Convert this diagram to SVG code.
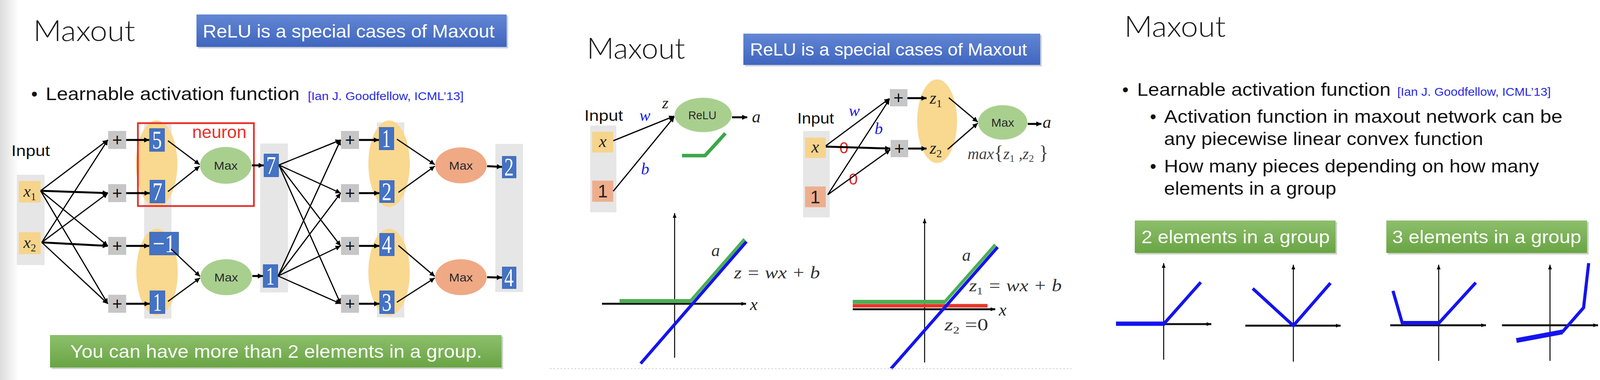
<svg xmlns="http://www.w3.org/2000/svg" width="4108" height="972" viewBox="0 0 4108 972">
<defs>
<style>
text{font-family:"Liberation Sans",Arial,sans-serif}
.ttl{font-family:"Lato","Liberation Sans",sans-serif;font-weight:300;font-size:74px;fill:#1a1a1a}
.body{font-size:46px;fill:#111}
.cite{font-size:30px;fill:#2a2ae6}
.ban{font-size:46px;fill:#fff}
.m{font-family:"Liberation Serif","Times New Roman",serif;font-style:italic}
.sub{font-style:normal}
.col{fill:#e6e6e6}
.plus{fill:#c6c6c6}
.pt{font-size:44px;fill:#111;text-anchor:middle}
.bb{fill:#4472c4;stroke:#3a62b0;stroke-width:1.5}
.num{font-family:"Liberation Serif","Times New Roman",serif;fill:#fff;font-size:66px;text-anchor:middle}
.yel{fill:#f9d890}
.yb{fill:#f6d48b}
.ob{fill:#eeae8d}
.gm{fill:#a9cf8f}
.om{fill:#efa985}
.mx{font-size:30px;fill:#2a2a2a;text-anchor:middle}
.ln{stroke:#000;stroke-width:3;fill:none;marker-end:url(#ah)}
.lnb{stroke:#000;stroke-width:5;fill:none;marker-end:url(#ah)}
.ax{stroke:#000;stroke-width:2.5;fill:none;marker-end:url(#axh)}
.axh{stroke:#111;stroke-width:5;fill:none;marker-end:url(#axh)}
.blu{stroke:#1414f0;stroke-width:8;fill:none;stroke-linejoin:miter}
.grn{stroke:#4caf55;stroke-width:8;fill:none}
.lbl{font-size:44px;fill:#333}
</style>
<marker id="ah" viewBox="0 0 10 10" refX="10" refY="5" markerWidth="15" markerHeight="13" markerUnits="userSpaceOnUse" orient="auto">
<path d="M0,0 L10,5 L0,10 z" fill="#000"/>
</marker>
<marker id="axh" viewBox="0 0 10 10" refX="10" refY="5" markerWidth="12" markerHeight="12" markerUnits="userSpaceOnUse" orient="auto">
<path d="M0,1 L10,5 L0,9 z" fill="#000"/>
</marker>
<linearGradient id="gBlue" x1="0" y1="0" x2="0" y2="1">
<stop offset="0" stop-color="#6386d4"/><stop offset="1" stop-color="#3f66bf"/>
</linearGradient>
<linearGradient id="gGreen" x1="0" y1="0" x2="0" y2="1">
<stop offset="0" stop-color="#8dbf6b"/><stop offset="1" stop-color="#69a444"/>
</linearGradient>
<linearGradient id="gEdge" x1="0" y1="0" x2="1" y2="0">
<stop offset="0" stop-color="#dcdcdc"/><stop offset="1" stop-color="#ffffff"/>
</linearGradient>
</defs>

<rect x="0" y="0" width="4108" height="972" fill="#fff"/>
<rect x="0" y="0" width="48" height="972" fill="url(#gEdge)"/>

<!-- ================= LEFT PANEL ================= -->
<g id="left-title">
<text class="ttl" x="85" y="105" textLength="261" lengthAdjust="spacingAndGlyphs">Maxout</text>
</g>
<g id="left-relu-banner">
<rect x="507" y="41" width="794" height="83" fill="#9aa6c0" opacity="0.5"/>
<rect x="503" y="37" width="794" height="83" fill="url(#gBlue)"/>
<text x="519" y="96" font-size="47" fill="#fff" textLength="747" lengthAdjust="spacingAndGlyphs">ReLU is a special cases of Maxout</text>
</g>
<g id="left-bullet">
<text class="body" x="80" y="256">•</text>
<text class="body" x="117" y="256" textLength="650" lengthAdjust="spacingAndGlyphs">Learnable activation function</text>
<text class="cite" x="788" y="256" textLength="399" lengthAdjust="spacingAndGlyphs">[Ian J. Goodfellow, ICML’13]</text>
</g>

<g id="left-input-label"><text x="29" y="399" font-size="39" fill="#111" textLength="99" lengthAdjust="spacingAndGlyphs">Input</text></g>

<!-- columns / backgrounds -->
<g id="left-input-col">
<rect class="col" x="43" y="447" width="71" height="231"/>
<rect class="yb" x="48" y="463" width="56" height="55"/>
<text class="m" x="60" y="503" font-size="42" fill="#222">x<tspan class="sub" font-size="27" dy="9">1</tspan></text>
<rect class="yb" x="48" y="594" width="56" height="56"/>
<text class="m" x="60" y="634" font-size="42" fill="#222">x<tspan class="sub" font-size="27" dy="9">2</tspan></text>
</g>

<g id="left-plus1">
<rect class="plus" x="277" y="335" width="46" height="46"/><text class="pt" x="300" y="373">+</text>
<rect class="plus" x="277" y="471" width="46" height="46"/><text class="pt" x="300" y="509">+</text>
<rect class="plus" x="277" y="606" width="46" height="46"/><text class="pt" x="300" y="644">+</text>
<rect class="plus" x="277" y="754" width="46" height="46"/><text class="pt" x="300" y="792">+</text>
</g>

<g id="left-layer1">
<rect class="col" x="369" y="316" width="70" height="499"/>
<ellipse class="yel" cx="401" cy="419" rx="53" ry="111"/>
<ellipse class="yel" cx="402" cy="696" rx="53" ry="111"/>
<rect class="bb" x="383" y="329" width="38" height="58"/><text class="num" x="402" y="380" textLength="25" lengthAdjust="spacingAndGlyphs">5</text>
<rect class="bb" x="384" y="461" width="38" height="58"/><text class="num" x="403" y="512" textLength="25" lengthAdjust="spacingAndGlyphs">7</text>
<rect class="bb" x="383" y="594" width="74" height="58"/><text class="num" x="420" y="645" textLength="58" lengthAdjust="spacingAndGlyphs">−1</text>
<rect class="bb" x="384" y="744" width="38" height="58"/><text class="num" x="403" y="795" textLength="22" lengthAdjust="spacingAndGlyphs">1</text>
</g>

<g id="left-neuron-box">
<rect x="353" y="315" width="297" height="212" fill="none" stroke="#e8302a" stroke-width="4.5"/>
<text x="492" y="353" font-size="44" fill="#e8302a" textLength="139" lengthAdjust="spacingAndGlyphs">neuron</text>
</g>

<g id="left-max1">
<ellipse class="gm" cx="578" cy="423" rx="66" ry="47"/><text class="mx" x="578" y="434" textLength="61" lengthAdjust="spacingAndGlyphs">Max</text>
</g>
<g id="left-max2">
<ellipse class="gm" cx="579" cy="709" rx="66" ry="46"/><text class="mx" x="579" y="720" textLength="61" lengthAdjust="spacingAndGlyphs">Max</text>
</g>

<g id="left-layer1-out">
<rect class="col" x="666" y="367" width="71" height="381"/>
<rect class="bb" x="676" y="394" width="37" height="58"/><text class="num" x="694" y="445" textLength="25" lengthAdjust="spacingAndGlyphs">7</text>
<rect class="bb" x="674" y="677" width="37" height="58"/><text class="num" x="692" y="728" textLength="22" lengthAdjust="spacingAndGlyphs">1</text>
</g>

<g id="left-plus2">
<rect class="plus" x="873" y="335" width="46" height="46"/><text class="pt" x="896" y="373">+</text>
<rect class="plus" x="873" y="471" width="46" height="46"/><text class="pt" x="896" y="509">+</text>
<rect class="plus" x="873" y="606" width="46" height="46"/><text class="pt" x="896" y="644">+</text>
<rect class="plus" x="873" y="754" width="46" height="46"/><text class="pt" x="896" y="792">+</text>
</g>

<g id="left-layer2">
<rect class="col" x="965" y="313" width="70" height="499"/>
<ellipse class="yel" cx="996" cy="419" rx="53" ry="111"/>
<ellipse class="yel" cx="996" cy="696" rx="53" ry="111"/>
<rect class="bb" x="971" y="326" width="37" height="57"/><text class="num" x="989" y="376" textLength="22" lengthAdjust="spacingAndGlyphs">1</text>
<rect class="bb" x="972" y="462" width="37" height="56"/><text class="num" x="990" y="512" textLength="25" lengthAdjust="spacingAndGlyphs">2</text>
<rect class="bb" x="972" y="597" width="37" height="57"/><text class="num" x="990" y="647" textLength="25" lengthAdjust="spacingAndGlyphs">4</text>
<rect class="bb" x="972" y="744" width="37" height="58"/><text class="num" x="990" y="795" textLength="25" lengthAdjust="spacingAndGlyphs">3</text>
</g>

<g id="left-max3">
<ellipse class="om" cx="1180" cy="423" rx="66" ry="46"/><text class="mx" x="1180" y="434" textLength="61" lengthAdjust="spacingAndGlyphs">Max</text>
</g>
<g id="left-max4">
<ellipse class="om" cx="1180" cy="709" rx="66" ry="46"/><text class="mx" x="1180" y="720" textLength="61" lengthAdjust="spacingAndGlyphs">Max</text>
</g>

<g id="left-output">
<rect class="col" x="1268" y="368" width="71" height="379"/>
<rect class="bb" x="1286" y="400" width="35" height="55"/><text class="num" x="1303" y="449" textLength="24" lengthAdjust="spacingAndGlyphs">2</text>
<rect class="bb" x="1286" y="683" width="35" height="55"/><text class="num" x="1303" y="732" textLength="24" lengthAdjust="spacingAndGlyphs">4</text>
</g>

<g id="left-connectors">
<line class="ln" x1="104" y1="488" x2="276" y2="358"/>
<line class="lnb" x1="104" y1="488" x2="276" y2="494"/>
<line class="ln" x1="104" y1="488" x2="276" y2="629"/>
<line class="ln" x1="104" y1="488" x2="276" y2="777"/>
<line class="ln" x1="107" y1="620" x2="276" y2="358"/>
<line class="ln" x1="107" y1="620" x2="276" y2="494"/>
<line class="lnb" x1="107" y1="620" x2="276" y2="629"/>
<line class="ln" x1="107" y1="620" x2="276" y2="777"/>
<line class="lnb" x1="323" y1="358" x2="382" y2="358"/>
<line class="lnb" x1="323" y1="494" x2="383" y2="494"/>
<line class="lnb" x1="323" y1="629" x2="382" y2="629"/>
<line class="lnb" x1="323" y1="777" x2="383" y2="777"/>
<line class="ln" x1="430" y1="360" x2="511" y2="421"/>
<line class="ln" x1="430" y1="490" x2="511" y2="425"/>
<line class="ln" x1="438" y1="637" x2="512" y2="707"/>
<line class="ln" x1="430" y1="771" x2="512" y2="711"/>
<line class="lnb" x1="645" y1="423" x2="675" y2="423"/>
<line class="lnb" x1="646" y1="706" x2="673" y2="706"/>
<line class="ln" x1="714" y1="422" x2="872" y2="358"/>
<line class="ln" x1="714" y1="422" x2="872" y2="494"/>
<line class="ln" x1="714" y1="422" x2="872" y2="629"/>
<line class="ln" x1="714" y1="422" x2="872" y2="777"/>
<line class="ln" x1="712" y1="706" x2="872" y2="358"/>
<line class="ln" x1="712" y1="706" x2="872" y2="494"/>
<line class="ln" x1="712" y1="706" x2="872" y2="629"/>
<line class="ln" x1="712" y1="706" x2="872" y2="777"/>
<line class="lnb" x1="919" y1="358" x2="970" y2="358"/>
<line class="lnb" x1="919" y1="494" x2="971" y2="494"/>
<line class="lnb" x1="919" y1="629" x2="971" y2="629"/>
<line class="lnb" x1="919" y1="777" x2="971" y2="777"/>
<line class="ln" x1="1016" y1="356" x2="1113" y2="421"/>
<line class="ln" x1="1020" y1="492" x2="1113" y2="425"/>
<line class="ln" x1="1020" y1="628" x2="1113" y2="707"/>
<line class="ln" x1="1016" y1="773" x2="1113" y2="711"/>
<line class="lnb" x1="1247" y1="425" x2="1285" y2="427"/>
<line class="lnb" x1="1247" y1="709" x2="1285" y2="710"/>
</g>

<g id="left-bottom-banner">
<rect x="132" y="861" width="1156" height="83" fill="#9aa890" opacity="0.5"/>
<rect x="128" y="857" width="1156" height="83" fill="url(#gGreen)"/>
<text class="ban" x="180" y="915" textLength="1054" lengthAdjust="spacingAndGlyphs">You can have more than 2 elements in a group.</text>
</g>

<!-- ================= MIDDLE PANEL ================= -->
<g id="mid-title">
<text class="ttl" x="1502" y="150" textLength="252" lengthAdjust="spacingAndGlyphs">Maxout</text>
</g>
<g id="mid-relu-banner">
<rect x="1907" y="90" width="760" height="80" fill="#9aa6c0" opacity="0.5"/>
<rect x="1903" y="86" width="760" height="80" fill="url(#gBlue)"/>
<text x="1920" y="142" font-size="45" fill="#fff" textLength="709" lengthAdjust="spacingAndGlyphs">ReLU is a special cases of Maxout</text>
</g>

<g id="mid-relu-input">
<text x="1496" y="309" font-size="39" fill="#111" textLength="99" lengthAdjust="spacingAndGlyphs">Input</text>
<rect class="col" x="1511" y="321" width="67" height="222"/>
<rect class="yb" x="1516" y="337" width="54" height="53"/>
<text class="m" x="1543" y="376" font-size="44" fill="#222" text-anchor="middle">x</text>
<rect class="ob" x="1516" y="462" width="54" height="54"/>
<text x="1543" y="505" font-size="46" fill="#222" text-anchor="middle" font-family="Liberation Serif, serif">1</text>
</g>
<g id="mid-relu-node">
<ellipse class="gm" cx="1800" cy="294" rx="73" ry="44"/>
<text class="mx" x="1798" y="305" textLength="72" lengthAdjust="spacingAndGlyphs">ReLU</text>
</g>
<g id="mid-relu-labels">
<text class="m" x="1637" y="309" font-size="42" fill="#1a1ae6">w</text>
<text class="m" x="1695" y="277" font-size="42" fill="#222">z</text>
<text class="m" x="1641" y="446" font-size="42" fill="#1a1ae6">b</text>
<text class="m" x="1925" y="313" font-size="44" fill="#222">a</text>
<polyline points="1746,398 1805,398 1857,341" fill="none" stroke="#3aa84a" stroke-width="9"/>
</g>

<g id="mid-max-input">
<text x="2041" y="316" font-size="38" fill="#111" textLength="94" lengthAdjust="spacingAndGlyphs">Input</text>
<rect class="col" x="2056" y="335" width="68" height="221"/>
<rect class="yb" x="2061" y="352" width="53" height="52"/>
<text class="m" x="2087" y="390" font-size="44" fill="#222" text-anchor="middle">x</text>
<rect class="ob" x="2061" y="477" width="53" height="53"/>
<text x="2087" y="520" font-size="46" fill="#222" text-anchor="middle" font-family="Liberation Serif, serif">1</text>
</g>
<g id="mid-max-plus">
<rect class="plus" x="2278" y="228" width="45" height="44"/><text class="pt" x="2300" y="265">+</text>
<rect class="plus" x="2280" y="358" width="45" height="44"/><text class="pt" x="2302" y="395">+</text>
</g>
<g id="mid-max-group">
<ellipse class="yel" cx="2399" cy="310" rx="51" ry="107"/>
<text class="m" x="2380" y="265" font-size="44" fill="#222">z<tspan class="sub" font-size="28" dy="9">1</tspan></text>
<text class="m" x="2380" y="393" font-size="44" fill="#222">z<tspan class="sub" font-size="28" dy="9">2</tspan></text>
</g>
<g id="mid-max-node">
<ellipse class="gm" cx="2567" cy="313" rx="63" ry="44"/>
<text class="mx" x="2567" y="324" textLength="59" lengthAdjust="spacingAndGlyphs">Max</text>
</g>
<g id="mid-max-labels">
<text class="m" x="2669" y="327" font-size="44" fill="#222">a</text>
<text class="m" x="2477" y="407" font-size="40" fill="#444" textLength="207" lengthAdjust="spacingAndGlyphs">max<tspan class="sub" font-size="50">{</tspan>z<tspan class="sub" font-size="26" dy="7">1</tspan><tspan dy="-7"> ,</tspan>z<tspan class="sub" font-size="26" dy="7">2</tspan><tspan class="sub" font-size="50" dy="-7"> }</tspan></text>
<text class="m" x="2173" y="297" font-size="42" fill="#1a1ae6">w</text>
<text class="m" x="2239" y="343" font-size="42" fill="#1a1ae6">b</text>
<text x="2149" y="392" font-size="41" fill="#e02020">0</text>
<text x="2173" y="472" font-size="41" fill="#e02020">0</text>
</g>

<g id="mid-connectors">
<line class="ln" x1="1570" y1="360" x2="1726" y2="297"/>
<line class="ln" x1="1570" y1="489" x2="1726" y2="299"/>
<line class="lnb" x1="1874" y1="300" x2="1913" y2="300"/>
<line class="ln" x1="2114" y1="373" x2="2277" y2="252"/>
<line class="lnb" x1="2114" y1="375" x2="2279" y2="380"/>
<line class="ln" x1="2119" y1="498" x2="2277" y2="254"/>
<line class="ln" x1="2119" y1="498" x2="2279" y2="383"/>
<line class="lnb" x1="2323" y1="251" x2="2372" y2="251"/>
<line class="lnb" x1="2325" y1="380" x2="2372" y2="380"/>
<line class="ln" x1="2429" y1="250" x2="2503" y2="312"/>
<line class="ln" x1="2426" y1="382" x2="2503" y2="315"/>
<line class="lnb" x1="2631" y1="317" x2="2666" y2="317"/>
</g>

<g id="mid-graph-relu">
<line class="ax" x1="1727" y1="915" x2="1727" y2="545"/>
<line class="axh" x1="1541" y1="777" x2="1910" y2="777"/>
<line x1="1586" y1="770" x2="1768" y2="770" stroke="#4caf55" stroke-width="10"/>
<line class="grn" x1="1766" y1="772" x2="1906" y2="612"/>
<line class="blu" x1="1640" y1="930" x2="1911" y2="618"/>
<text class="m" x="1920" y="793" font-size="44" fill="#222">x</text>
<text class="m" x="1821" y="655" font-size="44" fill="#333">a</text>
<text class="m lbl" x="1879" y="712" font-size="40" textLength="220" lengthAdjust="spacingAndGlyphs">z = wx + b</text>
</g>

<g id="mid-graph-maxout">
<line class="ax" x1="2367" y1="927" x2="2367" y2="559"/>
<line class="axh" x1="2183" y1="791" x2="2548" y2="791"/>
<line x1="2183" y1="772" x2="2419" y2="772" stroke="#4caf55" stroke-width="10"/>
<line x1="2183" y1="782" x2="2528" y2="782" stroke="#e8352a" stroke-width="9"/>
<line class="grn" x1="2417" y1="774" x2="2548" y2="626"/>
<line class="blu" x1="2281" y1="943" x2="2554" y2="632"/>
<text class="m" x="2557" y="807" font-size="44" fill="#222">x</text>
<text class="m" x="2463" y="667" font-size="44" fill="#333">a</text>
<text class="m lbl" x="2481" y="745" font-size="40" textLength="237" lengthAdjust="spacingAndGlyphs">z<tspan class="sub" font-size="26" dy="8">1</tspan><tspan dy="-8"> = wx + b</tspan></text>
<text class="m lbl" x="2418" y="845" font-size="40" textLength="112" lengthAdjust="spacingAndGlyphs">z<tspan class="sub" font-size="26" dy="8">2</tspan><tspan class="sub" dy="-8"> =0</tspan></text>
</g>
<line x1="1408" y1="943" x2="2743" y2="943" stroke="#cfcfcf" stroke-width="2" stroke-dasharray="4 5"/>

<!-- ================= RIGHT PANEL ================= -->
<g id="right-title">
<text class="ttl" x="2878" y="94" textLength="260" lengthAdjust="spacingAndGlyphs">Maxout</text>
</g>
<g id="right-bullets">
<text class="body" x="2873" y="245">•</text>
<text class="body" x="2911" y="245" textLength="649" lengthAdjust="spacingAndGlyphs">Learnable activation function</text>
<text class="cite" x="3577" y="245" textLength="393" lengthAdjust="spacingAndGlyphs">[Ian J. Goodfellow, ICML’13]</text>
<text class="body" x="2944" y="314">•</text>
<text class="body" x="2980" y="314" textLength="1020" lengthAdjust="spacingAndGlyphs">Activation function in maxout network can be</text>
<text class="body" x="2980" y="371" textLength="817" lengthAdjust="spacingAndGlyphs">any piecewise linear convex function</text>
<text class="body" x="2944" y="441">•</text>
<text class="body" x="2980" y="441" textLength="960" lengthAdjust="spacingAndGlyphs">How many pieces depending on how many</text>
<text class="body" x="2980" y="498" textLength="441" lengthAdjust="spacingAndGlyphs">elements in a group</text>
</g>
<g id="right-banner-2">
<rect x="2909" y="568" width="514" height="83" fill="#9aa890" opacity="0.5"/>
<rect x="2905" y="564" width="514" height="83" fill="url(#gGreen)"/>
<text class="ban" x="2922" y="622" textLength="482" lengthAdjust="spacingAndGlyphs">2 elements in a group</text>
</g>
<g id="right-banner-3">
<rect x="3553" y="568" width="514" height="83" fill="#9aa890" opacity="0.5"/>
<rect x="3549" y="564" width="514" height="83" fill="url(#gGreen)"/>
<text class="ban" x="3564" y="622" textLength="484" lengthAdjust="spacingAndGlyphs">3 elements in a group</text>
</g>
<g id="right-graph-1">
<line class="ax" x1="2979" y1="920" x2="2979" y2="673"/>
<line class="axh" x1="2858" y1="829" x2="3101" y2="829"/>
<line x1="2857" y1="828" x2="2982" y2="828" stroke="#1414f0" stroke-width="11"/>
<line class="blu" x1="2979" y1="829" x2="3074" y2="722"/>
</g>
<g id="right-graph-2">
<line class="ax" x1="3311" y1="925" x2="3311" y2="677"/>
<line class="axh" x1="3188" y1="833" x2="3432" y2="833"/>
<polyline class="blu" points="3207,738 3311,833 3406,724"/>
</g>
<g id="right-graph-3">
<line class="ax" x1="3683" y1="923" x2="3683" y2="677"/>
<line class="axh" x1="3559" y1="832" x2="3804" y2="832"/>
<polyline class="blu" points="3566,744 3590,827 3683,827 3778,723"/>
<line x1="3590" y1="826" x2="3683" y2="826" stroke="#1414f0" stroke-width="10"/>
</g>
<g id="right-graph-4">
<line class="ax" x1="3968" y1="923" x2="3968" y2="677"/>
<line class="axh" x1="3845" y1="832" x2="4091" y2="832"/>
<line x1="3882" y1="871" x2="4000" y2="849" stroke="#1414f0" stroke-width="12"/>
<polyline class="blu" points="3999,850 4054,787 4067,673" stroke-width="7"/>
</g>
</svg>
